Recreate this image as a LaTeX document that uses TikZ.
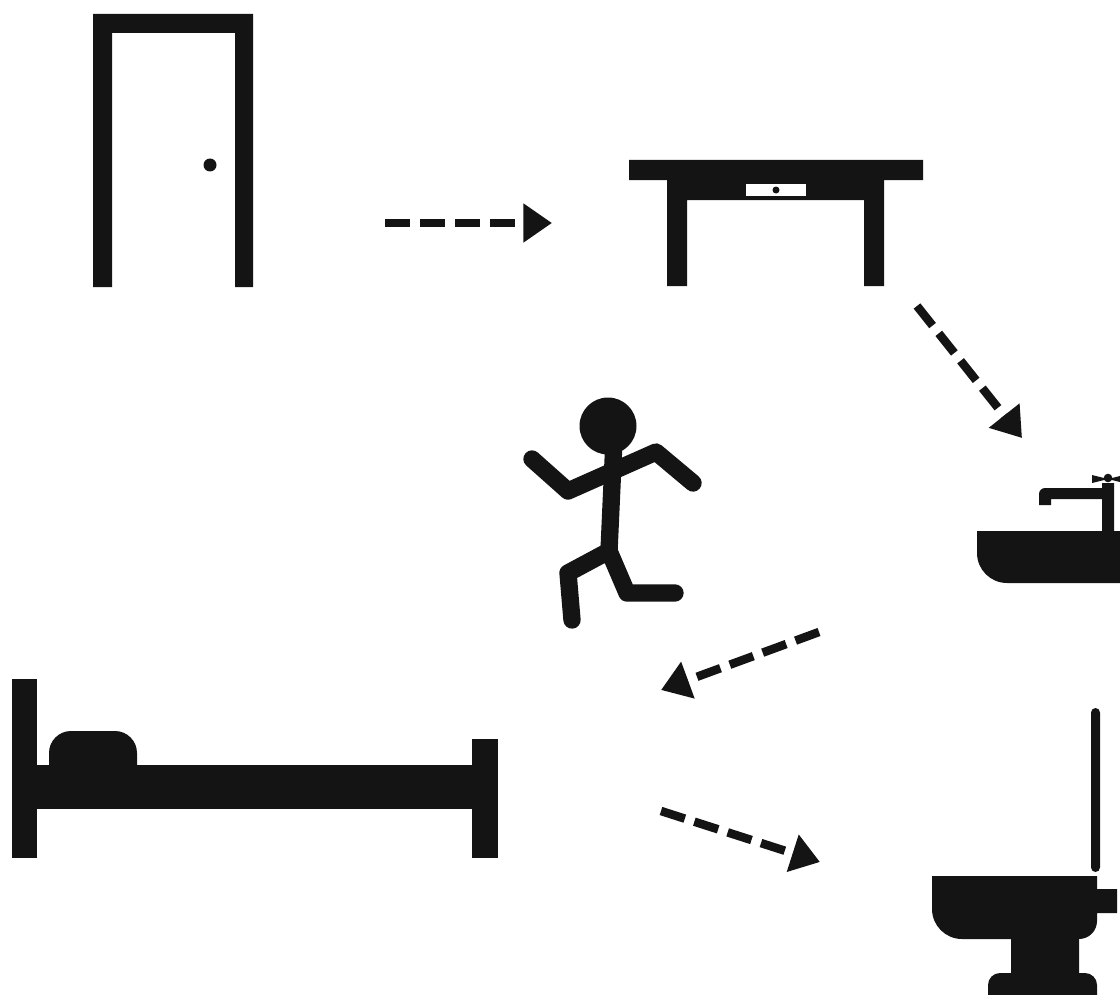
\documentclass[tikz,border=0pt]{standalone}
\usetikzlibrary{arrows.meta}
\definecolor{ink}{HTML}{141414}
\tikzset{
  shape fill/.style={fill=ink,draw=none},
  limb/.style={draw=ink,line width=13pt,line cap=round,line join=round},
  flow/.style={draw=ink,line width=6.4pt,dash pattern=on 18.75pt off 7.5pt,-{Triangle[length=21.5pt,width=28pt]}},
}
\begin{document}
\begin{tikzpicture}[x=0.75pt,y=-0.75pt]
\useasboundingbox (0,0) rectangle (1120,995);
\clip (0,0) rectangle (1120,995);
\fill[white] (0,0) rectangle (1120,995);
% door
\fill[shape fill] (93,287) -- (93,14) -- (253,14) -- (253,287) -- (235,287) -- (235,33) -- (112,33) -- (112,287) -- cycle;
\fill[shape fill] (210,165) circle (6.5);
% table
\fill[shape fill] (629,160) -- (923,160) -- (923,180) -- (884,180) -- (884,286) -- (864,286) -- (864,200) -- (687,200) -- (687,286) -- (667,286) -- (667,180) -- (629,180) -- cycle;
\fill[white] (746,184) rectangle (806,196);
\fill[shape fill] (776,190) circle (3.5);
% sink
\fill[shape fill] (977,531) -- (1125,531) -- (1125,583) -- (1007,583) arc[start angle=90,end angle=180,radius=30] -- cycle;
\fill[shape fill] (1102,535) -- (1102,499) -- (1051,499) -- (1051,505) -- (1039,505) -- (1039,494) arc[start angle=180,end angle=270,radius=6] -- (1102,488) -- (1102,483) -- (1114,483) -- (1114,535) -- cycle;
\fill[shape fill] (1108,478) circle (4.3);
\fill[shape fill] (1092,475) -- (1108,479) -- (1092,483) -- cycle;
\fill[shape fill] (1124,475) -- (1108,479) -- (1124,483) -- cycle;
% person
\fill[shape fill] (608,426) circle (28.5);
\draw[limb] (614,440) -- (609,551);
\draw[limb] (532,459) -- (568,491) -- (656,452) -- (693,483);
\draw[limb] (572,620) -- (568,573) -- (609,551) -- (627,593) -- (675,593);
% bed
\fill[shape fill] (12,679) rectangle (37,858);
\fill[shape fill] (472,739) rectangle (498,858);
\fill[shape fill] (37,765) rectangle (472,809);
\fill[shape fill] (49,766) -- (49,753) arc[start angle=180,end angle=270,radius=22] -- (115,731) arc[start angle=270,end angle=360,radius=22] -- (137,766) -- cycle;
% toilet
\fill[shape fill,rounded corners=3.4pt] (1091,872) -- (1091,708) -- (1100,708) -- (1100,872) -- cycle;
\fill[shape fill] (932,876) -- (1097,876) -- (1097,889) -- (1117,889) -- (1117,913) -- (1097,913) -- (1097,921) arc[start angle=0,end angle=90,radius=18] -- (1079,939) -- (1079,973) -- (1085,973) arc[start angle=-90,end angle=0,radius=12] -- (1097,1000) -- (988,1000) -- (988,985) arc[start angle=180,end angle=270,radius=12] -- (1011,973) -- (1011,939) -- (962,939) arc[start angle=90,end angle=180,radius=30] -- cycle;
% arrows
\coordinate (a1s) at (385,223);
\coordinate (a1e) at (552,223);
\coordinate (a2s) at (917,306);
\coordinate (a2e) at (1022,438);
\coordinate (a3s) at (819,632);
\coordinate (a3e) at (661,690);
\coordinate (a4s) at (661,811);
\coordinate (a4e) at (820,862);
\draw[flow] (a1s) -- (a1e);
\draw[flow] (a2s) -- (a2e);
\draw[flow] (a3s) -- (a3e);
\draw[flow] (a4s) -- (a4e);
\end{tikzpicture}
\end{document}
